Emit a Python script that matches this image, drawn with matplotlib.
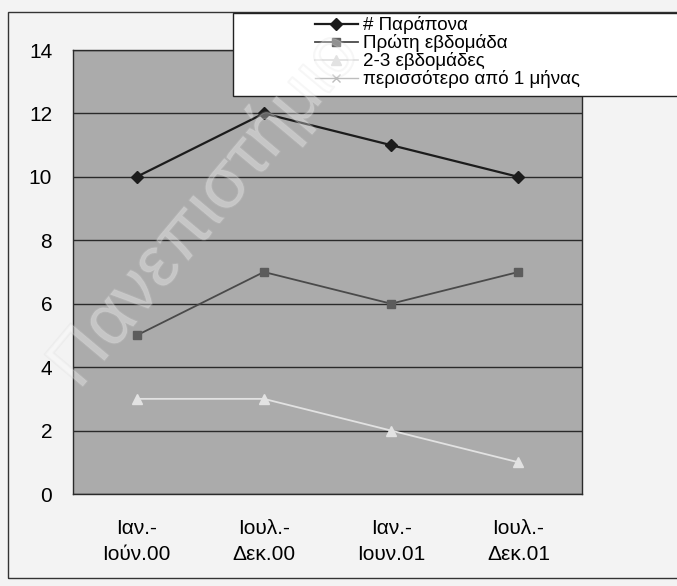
import matplotlib.pyplot as plt
import matplotlib.patches as mpatches
import matplotlib.patheffects as pe
import numpy as np

plt.rcParams['font.family'] = ['Liberation Sans', 'DejaVu Sans']

periods = ['Ιαν.-\nΙούν.00', 'Ιουλ.-\nΔεκ.00', 'Ιαν.-\nΙουν.01', 'Ιουλ.-\nΔεκ.01']
complaints = [10, 12, 11, 10]
first_week = [5, 7, 6, 7]
two_three_weeks = [3, 3, 2, 1]
over_month = [np.nan, np.nan, np.nan, np.nan]  # not visible in the chart

fig = plt.figure(figsize=(6.77, 5.86), dpi=100, facecolor='#f3f3f3')
ax = fig.add_axes([73 / 677, 1 - 494 / 586, 509 / 677, 444 / 586])
ax.set_facecolor('#ababab')

x = np.arange(len(periods))
ax.plot(x, complaints, color='#1c1c1c', lw=1.6, marker='D', ms=6,
        label='# Παράπονα')
ax.plot(x, first_week, color='#4a4a4a', lw=1.3, marker='s', ms=6,
        mfc='#5c5c5c', mec='#5c5c5c', label='Πρώτη εβδομάδα')
ax.plot(x, two_three_weeks, color='#e2e2e2', lw=1.3, marker='^', ms=7,
        label='2-3 εβδομάδες')
ax.plot(x, over_month, color='#bdbdbd', lw=1.0, marker='x', ms=6,
        label='περισσότερο από 1 μήνας')

ax.set_xlim(-0.5, 3.5)
ax.set_ylim(0, 14)
ax.set_yticks(range(0, 15, 2))
ax.set_xticks(x)
ax.set_xticklabels(periods, linespacing=1.45)
ax.tick_params(length=0, labelsize=15)
ax.tick_params(axis='y', pad=15)
ax.tick_params(axis='x', pad=18)
ax.grid(axis='y', color='#2a2a2a', lw=1.0)
ax.set_axisbelow(True)
for s in ax.spines.values():
    s.set_color('#2a2a2a')
    s.set_linewidth(1.0)

# outer chart frame
fig.add_artist(mpatches.Rectangle((8 / 677, 1 - 578 / 586), 700 / 677, 566 / 586,
                                  transform=fig.transFigure, fill=False,
                                  ec='#333333', lw=1.0))

# legend box
fig.add_artist(mpatches.Rectangle((233 / 677, 1 - 96 / 586), 500 / 677, 83 / 586,
                                  transform=fig.transFigure, fc='white',
                                  ec='#222222', lw=1.0, zorder=5))
leg = fig.legend(loc='upper left', bbox_to_anchor=(307 / 677, 1 - 9 / 586),
                 frameon=False, fontsize=13.5, labelspacing=0.0,
                 handlelength=2.3, handletextpad=0.27, borderaxespad=0)
leg.set_zorder(6)

# faint watermark across the chart
fig.text(205 / 677, 1 - 210 / 586, 'Πανεπιστήμιο', fontsize=52,
         rotation=50, ha='center', va='center', color='white', alpha=0.18,
         zorder=7, path_effects=[pe.withStroke(linewidth=1.5, foreground='#cfcfcf')])

fig.savefig('out.png', dpi=100, facecolor=fig.get_facecolor())
